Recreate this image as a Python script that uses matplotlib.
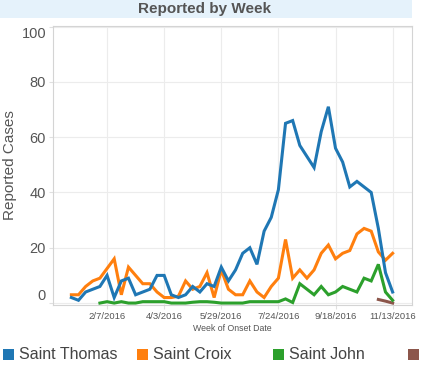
import matplotlib
matplotlib.use('Agg')
from matplotlib import pyplot as plt
from matplotlib.patches import Rectangle
import numpy as np
import pandas as pd

plt.rcParams['font.family'] = ['Liberation Sans', 'DejaVu Sans']

# Weekly onset dates, 1/3/2016 .. 11/13/2016
weeks = pd.date_range('2016-01-03', '2016-11-13', freq='7D')

saint_thomas = [2, 1, 4, 5, 6, 10, 2, 8, 9, 3, 4, 5, 10, 10, 3, 2, 3, 6, 4, 7,
                6, 13, 8, 12, 18, 20, 14, 26, 31, 41, 65, 66, 57, 53, 49, 62, 71, 56,
                51, 42, 44, 42, 40, 27, 11, 4]
saint_croix = [3, 3, 6, 8, 9, 12.5, 16, 3, 13, 10, 7, 7, 4, 2, 2, 2.5, 8, 5, 6, 11,
               2, 12, 5, 3, 3, 8, 4, 2, 6, 9, 23, 9, 12, 9, 12, 18, 21, 16,
               18, 19, 25, 27, 26, 18.5, 15.5, 18]
saint_john = [np.nan, np.nan, np.nan, np.nan, 0, 0.5, 0, 0.5, 0, 0, 0.5, 0.5, 0.5, 0.5,
              0, 0, 0, 0.3, 0.5, 0.5, 0.3, 0, 0, 0, 0, 0.5, 0.5, 0.5, 0.5, 0.5,
              1.5, 0.2, 7, 5, 3, 6, 3, 4, 6, 5, 4, 9, 8, 14, 4, 1]
other = [np.nan] * 43 + [1.3, 0.7, 0]

series_names = ['Saint Thomas', 'Saint Croix', 'Saint John', '']
series_colors = ['#1f77b4', '#ff7f0e', '#2ca02c', '#8c564b']

tick_dates = ['2016-02-07', '2016-04-03', '2016-05-29', '2016-07-24', '2016-09-18', '2016-11-13']
tick_labels = ['2/7/2016', '4/3/2016', '5/29/2016', '7/24/2016', '9/18/2016', '11/13/2016']
y_ticks = [0, 20, 40, 60, 80, 100]

text_color = '#555555'

fig = plt.figure(figsize=(4.24, 3.77), dpi=100)
ax = fig.add_axes([53 / 424, 1 - 305 / 377, (412 - 53) / 424, (305 - 26) / 377])

# title band
fig.patches.append(Rectangle((0, 1 - 18 / 377), 412 / 424, 18 / 377,
                             transform=fig.transFigure, facecolor='#e5f2fb',
                             edgecolor='none', zorder=0))
fig.text(205 / 424, 1 - 9.5 / 377, 'Reported by Week', ha='center', va='center',
         fontsize=11, fontweight='bold', color=text_color)

all_series = [saint_thomas, saint_croix, saint_john, other]
for idx in [3, 2, 1, 0]:
    ax.plot(weeks, all_series[idx], color=series_colors[idx], linewidth=2.2,
            solid_joinstyle='miter', zorder=3 + (3 - idx))

ax.set_xlim(pd.Timestamp('2015-12-16'), pd.Timestamp('2016-12-02'))
ax.set_ylim(-0.7, 100.2)

ax.set_xticks(pd.to_datetime(tick_dates))
ax.set_xticklabels(tick_labels, fontsize=6.8, color=text_color)
ax.set_yticks(y_ticks)
ylabels = ax.set_yticklabels([str(v) for v in y_ticks], fontsize=10.5, color=text_color)
ylabels[0].set_va('bottom')
ylabels[-1].set_va('top')

ax.tick_params(axis='y', length=3, color='#e0e0e0', pad=2)
ax.tick_params(axis='x', length=3, color='#e0e0e0', pad=2)

ax.grid(True, color='#ececec', linewidth=0.8)
ax.set_axisbelow(True)
for side in ['top', 'right', 'bottom', 'left']:
    ax.spines[side].set_color('#d4d4d4')
    ax.spines[side].set_linewidth(0.8)

fig.text(10 / 424, 1 - 165 / 377, 'Reported Cases', rotation=90, ha='center',
         va='center', fontsize=11, color=text_color)
ax.set_xlabel('Week of Onset Date', fontsize=6.3, color=text_color, labelpad=2)

# legend along the bottom
legend_x = [3, 137, 273, 408]
for x, name, color in zip(legend_x, series_names, series_colors):
    fig.patches.append(Rectangle((x / 424, 1 - 360 / 377), 11 / 424, 11 / 377,
                                 transform=fig.transFigure, facecolor=color,
                                 edgecolor='none'))
    if name:
        fig.text((x + 16) / 424, 1 - 354.5 / 377, name, ha='left', va='center',
                 fontsize=11.5, color='#444444')

fig.savefig('out.png', dpi=100)
